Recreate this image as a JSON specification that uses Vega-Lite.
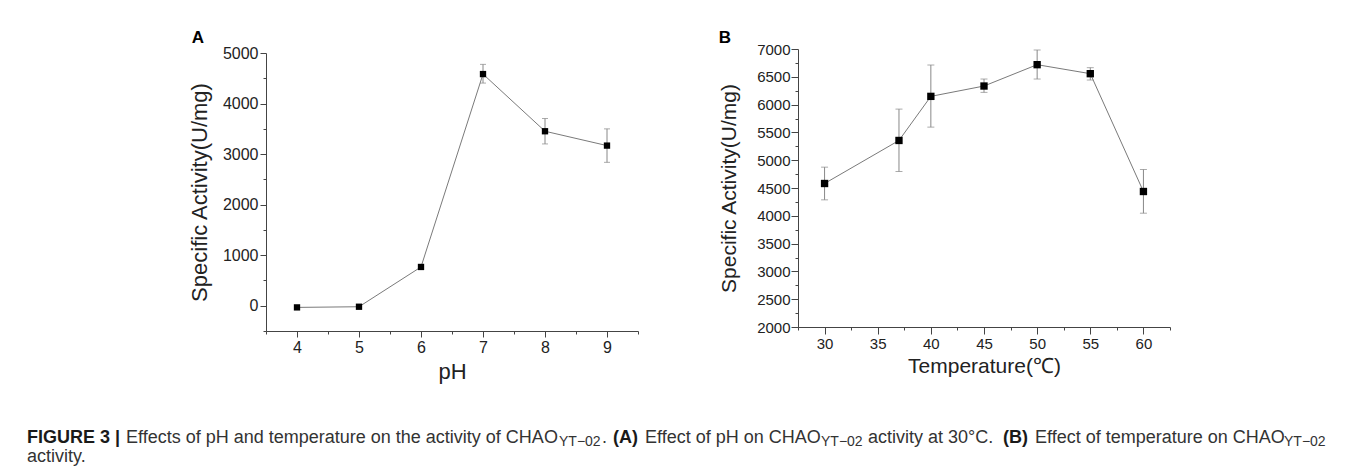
{
  "$schema": "https://vega.github.io/schema/vega-lite/v6.json",
  "width": 1346,
  "height": 471,
  "autosize": {"type": "none"},
  "padding": 0,
  "background": "white",
  "config": {"view": {"stroke": null}, "font": "Liberation Sans", "axis": {"grid": false}},
  "datasets": {
    "ph": [
      {"ph": 4, "act": -33},
      {"ph": 5, "act": -20},
      {"ph": 6, "act": 767},
      {"ph": 7, "act": 4583, "lo": 4405, "hi": 4775},
      {"ph": 8, "act": 3452, "lo": 3201, "hi": 3704},
      {"ph": 9, "act": 3168, "lo": 2837, "hi": 3499}
    ],
    "temp": [
      {"t": 30, "act": 4581, "lo": 4287, "hi": 4875},
      {"t": 37, "act": 5355, "lo": 4797, "hi": 5919},
      {"t": 40, "act": 6148, "lo": 5595, "hi": 6712},
      {"t": 45, "act": 6334, "lo": 6220, "hi": 6460},
      {"t": 50, "act": 6718, "lo": 6460, "hi": 6982},
      {"t": 55, "act": 6556, "lo": 6442, "hi": 6664},
      {"t": 60, "act": 4437, "lo": 4047, "hi": 4833}
    ]
  },
  "layer": [
    {
      "data": {"name": "ph"},
      "encoding": {
        "x": {
          "field": "ph", "type": "quantitative",
          "scale": {"domain": [3.5, 9.5], "range": [266, 638], "nice": false, "zero": false},
          "axis": {
            "orient": "bottom", "offset": -140,
            "values": [3.5, 4, 4.5, 5, 5.5, 6, 6.5, 7, 7.5, 8, 8.5, 9, 9.5],
            "format": "~g",
            "labelExpr": "datum.value % 1 === 0 ? datum.label : ''",
            "tickSize": {"condition": {"test": "datum.value % 1 === 0", "value": 6}, "value": 3},
            "title": "pH", "titleY": 47, "titleBaseline": "alphabetic",
            "titleFontSize": 22, "titleFontWeight": "normal", "titleColor": "#222",
            "labelFontSize": 16, "labelColor": "#222", "labelPadding": 2,
            "domainColor": "#444", "tickColor": "#444",
            "labelOverlap": false, "labelFlush": false, "grid": false
          }
        }
      },
      "layer": [
        {
          "transform": [{"filter": "isValid(datum.hi)"}],
          "mark": {"type": "errorbar", "ticks": {"size": 6, "color": "#888"}, "rule": {"color": "#888", "strokeWidth": 1}},
          "encoding": {
            "y": {
              "field": "lo", "type": "quantitative",
              "scale": {"domain": [-500, 5000], "range": [331, 53], "nice": false, "zero": false},
              "axis": {
                "orient": "left", "offset": -266,
                "values": [-500, 0, 500, 1000, 1500, 2000, 2500, 3000, 3500, 4000, 4500, 5000],
                "format": "d",
                "labelExpr": "datum.value % 1000 === 0 ? datum.label : ''",
                "tickSize": {"condition": {"test": "datum.value % 1000 === 0", "value": 6}, "value": 3},
                "title": "Specific Activity(U/mg)", "titleX": -67, "titleBaseline": "middle",
                "titleFontSize": 22, "titleFontWeight": "normal", "titleColor": "#222",
                "labelFontSize": 16, "labelColor": "#222", "labelPadding": 2,
                "domainColor": "#444", "tickColor": "#444",
                "labelOverlap": false, "labelFlush": false, "grid": false
              }
            },
            "y2": {"field": "hi"}
          }
        },
        {
          "mark": {"type": "line", "color": "#7a7a7a", "strokeWidth": 1},
          "encoding": {
            "y": {
              "field": "act", "type": "quantitative",
              "scale": {"domain": [-500, 5000], "range": [331, 53], "nice": false, "zero": false},
              "axis": {
                "orient": "left", "offset": -266,
                "values": [-500, 0, 500, 1000, 1500, 2000, 2500, 3000, 3500, 4000, 4500, 5000],
                "format": "d",
                "labelExpr": "datum.value % 1000 === 0 ? datum.label : ''",
                "tickSize": {"condition": {"test": "datum.value % 1000 === 0", "value": 6}, "value": 3},
                "title": "Specific Activity(U/mg)", "titleX": -67, "titleBaseline": "middle",
                "titleFontSize": 22, "titleFontWeight": "normal", "titleColor": "#222",
                "labelFontSize": 16, "labelColor": "#222", "labelPadding": 2,
                "domainColor": "#444", "tickColor": "#444",
                "labelOverlap": false, "labelFlush": false, "grid": false
              }
            }
          }
        },
        {
          "mark": {"type": "point", "shape": "square", "filled": true, "color": "#000", "size": 40, "opacity": 1},
          "encoding": {
            "y": {
              "field": "act", "type": "quantitative",
              "scale": {"domain": [-500, 5000], "range": [331, 53], "nice": false, "zero": false},
              "axis": {
                "orient": "left", "offset": -266,
                "values": [-500, 0, 500, 1000, 1500, 2000, 2500, 3000, 3500, 4000, 4500, 5000],
                "format": "d",
                "labelExpr": "datum.value % 1000 === 0 ? datum.label : ''",
                "tickSize": {"condition": {"test": "datum.value % 1000 === 0", "value": 6}, "value": 3},
                "title": "Specific Activity(U/mg)", "titleX": -67, "titleBaseline": "middle",
                "titleFontSize": 22, "titleFontWeight": "normal", "titleColor": "#222",
                "labelFontSize": 16, "labelColor": "#222", "labelPadding": 2,
                "domainColor": "#444", "tickColor": "#444",
                "labelOverlap": false, "labelFlush": false, "grid": false
              }
            }
          }
        }
      ]
    },
    {
      "data": {"name": "temp"},
      "encoding": {
        "x": {
          "field": "t", "type": "quantitative",
          "scale": {"domain": [27.5, 62.5], "range": [798, 1170], "nice": false, "zero": false},
          "axis": {
            "orient": "bottom", "offset": -144,
            "values": [27.5, 30, 32.5, 35, 37.5, 40, 42.5, 45, 47.5, 50, 52.5, 55, 57.5, 60, 62.5],
            "format": "~g",
            "labelExpr": "datum.value % 5 === 0 ? datum.label : ''",
            "tickSize": {"condition": {"test": "datum.value % 5 === 0", "value": 7}, "value": 3},
            "title": "Temperature(℃)", "titleY": 45, "titleBaseline": "alphabetic",
            "titleFontSize": 21, "titleFontWeight": "normal", "titleColor": "#222",
            "labelFontSize": 15, "labelColor": "#222", "labelPadding": 2,
            "domainColor": "#444", "tickColor": "#444",
            "labelOverlap": false, "labelFlush": false, "grid": false
          }
        }
      },
      "layer": [
        {
          "mark": {"type": "errorbar", "ticks": {"size": 7, "color": "#888"}, "rule": {"color": "#888", "strokeWidth": 1}},
          "encoding": {
            "y": {
              "field": "lo", "type": "quantitative",
              "scale": {"domain": [2000, 7000], "range": [327, 49], "nice": false, "zero": false},
              "axis": {
                "orient": "left", "offset": -798,
                "values": [2000, 2250, 2500, 2750, 3000, 3250, 3500, 3750, 4000, 4250, 4500, 4750, 5000, 5250, 5500, 5750, 6000, 6250, 6500, 6750, 7000],
                "format": "d",
                "labelExpr": "datum.value % 500 === 0 ? datum.label : ''",
                "tickSize": {"condition": {"test": "datum.value % 500 === 0", "value": 7}, "value": 3},
                "title": "Specific Activity(U/mg)", "titleX": -69, "titleBaseline": "middle",
                "titleFontSize": 21, "titleFontWeight": "normal", "titleColor": "#222",
                "labelFontSize": 15, "labelColor": "#222", "labelPadding": 1,
                "domainColor": "#444", "tickColor": "#444",
                "labelOverlap": false, "labelFlush": false, "grid": false
              }
            },
            "y2": {"field": "hi"}
          }
        },
        {
          "mark": {"type": "line", "color": "#7a7a7a", "strokeWidth": 1},
          "encoding": {
            "y": {
              "field": "act", "type": "quantitative",
              "scale": {"domain": [2000, 7000], "range": [327, 49], "nice": false, "zero": false},
              "axis": {
                "orient": "left", "offset": -798,
                "values": [2000, 2250, 2500, 2750, 3000, 3250, 3500, 3750, 4000, 4250, 4500, 4750, 5000, 5250, 5500, 5750, 6000, 6250, 6500, 6750, 7000],
                "format": "d",
                "labelExpr": "datum.value % 500 === 0 ? datum.label : ''",
                "tickSize": {"condition": {"test": "datum.value % 500 === 0", "value": 7}, "value": 3},
                "title": "Specific Activity(U/mg)", "titleX": -69, "titleBaseline": "middle",
                "titleFontSize": 21, "titleFontWeight": "normal", "titleColor": "#222",
                "labelFontSize": 15, "labelColor": "#222", "labelPadding": 1,
                "domainColor": "#444", "tickColor": "#444",
                "labelOverlap": false, "labelFlush": false, "grid": false
              }
            }
          }
        },
        {
          "mark": {"type": "point", "shape": "square", "filled": true, "color": "#000", "size": 54, "opacity": 1},
          "encoding": {
            "y": {
              "field": "act", "type": "quantitative",
              "scale": {"domain": [2000, 7000], "range": [327, 49], "nice": false, "zero": false},
              "axis": {
                "orient": "left", "offset": -798,
                "values": [2000, 2250, 2500, 2750, 3000, 3250, 3500, 3750, 4000, 4250, 4500, 4750, 5000, 5250, 5500, 5750, 6000, 6250, 6500, 6750, 7000],
                "format": "d",
                "labelExpr": "datum.value % 500 === 0 ? datum.label : ''",
                "tickSize": {"condition": {"test": "datum.value % 500 === 0", "value": 7}, "value": 3},
                "title": "Specific Activity(U/mg)", "titleX": -69, "titleBaseline": "middle",
                "titleFontSize": 21, "titleFontWeight": "normal", "titleColor": "#222",
                "labelFontSize": 15, "labelColor": "#222", "labelPadding": 1,
                "domainColor": "#444", "tickColor": "#444",
                "labelOverlap": false, "labelFlush": false, "grid": false
              }
            }
          }
        }
      ]
    },
    {"data": {"values": [{}]}, "mark": {"type": "rule", "x": 10, "x2": 1346, "y": 10, "y2": 10, "color": "#333", "strokeWidth": 1.2}, "encoding": {}},
    {"data": {"values": [{}]}, "mark": {"type": "rule", "x": 10, "x2": 10, "y": 10, "y2": 471, "color": "#333", "strokeWidth": 1.2}, "encoding": {}},
    {"data": {"values": [{}]}, "mark": {"type": "text", "text": "A", "x": 198, "y": 43, "align": "center", "baseline": "alphabetic", "fontSize": 17, "fontWeight": "bold", "color": "#000"}},
    {"data": {"values": [{}]}, "mark": {"type": "text", "text": "B", "x": 725, "y": 43, "align": "center", "baseline": "alphabetic", "fontSize": 17, "fontWeight": "bold", "color": "#000"}},
    {"data": {"values": [{}]}, "mark": {"type": "text", "text": "FIGURE 3 |", "x": 27, "y": 443, "align": "left", "baseline": "alphabetic", "fontSize": 18, "fontWeight": "bold", "color": "#1a1a1a"}},
    {"data": {"values": [{}]}, "mark": {"type": "text", "text": "Effects of pH and temperature on the activity of CHAO", "x": 126, "y": 443, "align": "left", "baseline": "alphabetic", "fontSize": 18, "color": "#333"}},
    {"data": {"values": [{}]}, "mark": {"type": "text", "text": "YT−02", "x": 559, "y": 446, "align": "left", "baseline": "alphabetic", "fontSize": 14, "color": "#333"}},
    {"data": {"values": [{}]}, "mark": {"type": "text", "text": ".", "x": 602, "y": 443, "align": "left", "baseline": "alphabetic", "fontSize": 18, "color": "#333"}},
    {"data": {"values": [{}]}, "mark": {"type": "text", "text": "(A)", "x": 613, "y": 443, "align": "left", "baseline": "alphabetic", "fontSize": 18, "fontWeight": "bold", "color": "#1a1a1a"}},
    {"data": {"values": [{}]}, "mark": {"type": "text", "text": "Effect of pH on CHAO", "x": 645, "y": 443, "align": "left", "baseline": "alphabetic", "fontSize": 18, "color": "#333"}},
    {"data": {"values": [{}]}, "mark": {"type": "text", "text": "YT−02", "x": 821, "y": 446, "align": "left", "baseline": "alphabetic", "fontSize": 14, "color": "#333"}},
    {"data": {"values": [{}]}, "mark": {"type": "text", "text": "activity at 30°C.", "x": 868, "y": 443, "align": "left", "baseline": "alphabetic", "fontSize": 18, "color": "#333"}},
    {"data": {"values": [{}]}, "mark": {"type": "text", "text": "(B)", "x": 1003, "y": 443, "align": "left", "baseline": "alphabetic", "fontSize": 18, "fontWeight": "bold", "color": "#1a1a1a"}},
    {"data": {"values": [{}]}, "mark": {"type": "text", "text": "Effect of temperature on CHAO", "x": 1035, "y": 443, "align": "left", "baseline": "alphabetic", "fontSize": 18, "color": "#333"}},
    {"data": {"values": [{}]}, "mark": {"type": "text", "text": "YT−02", "x": 1284, "y": 446, "align": "left", "baseline": "alphabetic", "fontSize": 14, "color": "#333"}},
    {"data": {"values": [{}]}, "mark": {"type": "text", "text": "activity.", "x": 27, "y": 462, "align": "left", "baseline": "alphabetic", "fontSize": 18, "color": "#333"}}
  ],
  "resolve": {"scale": {"x": "independent", "y": "independent"}, "axis": {"x": "independent", "y": "independent"}}
}
